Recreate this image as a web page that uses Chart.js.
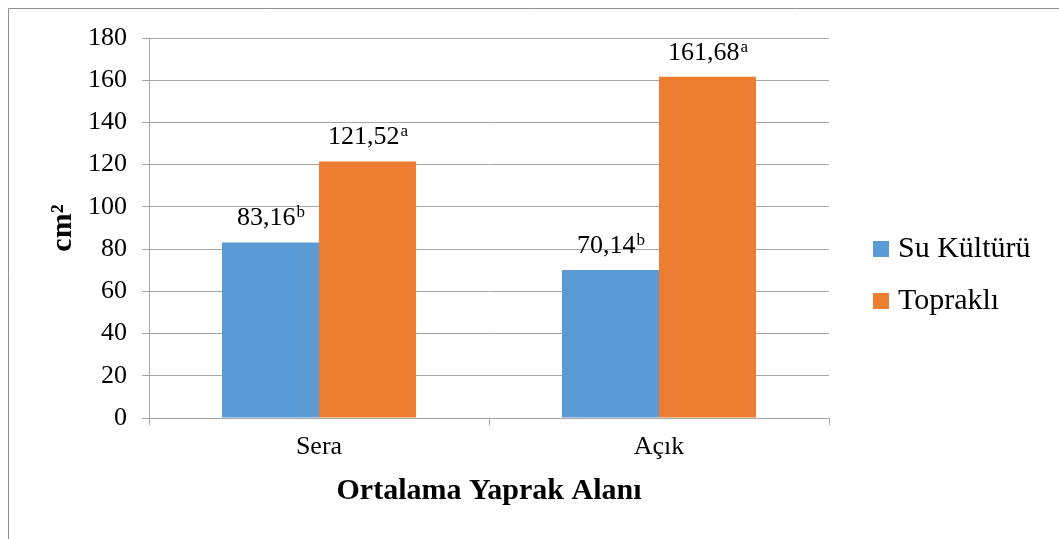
<!DOCTYPE html>
<html>
<head>
<meta charset="utf-8">
<script src="https://cdn.jsdelivr.net/npm/chart.js@4.4.1/dist/chart.umd.min.js"></script>
<style>
html, body { margin: 0; padding: 0; background: #ffffff; }
canvas { display: block; }
</style>
</head>
<body>
<canvas id="chart" width="1059" height="539"></canvas>
<script>
// ---- data ----
const categories = ['Sera', 'Açık'];
const seriesNames = ['Su Kültürü', 'Topraklı'];
const suKulturu = [83.16, 70.14];
const toprakli = [121.52, 161.68];
const suKulturuLetters = ['b', 'b'];
const topraklıLetters = ['a', 'a'];
const seriesColors = ['#5B9BD5', '#ED7D31'];
const yMin = 0;
const yMax = 180;
const yStep = 20;
const xTitle = 'Ortalama Yaprak Alanı';
const yTitle = 'cm²';

const FONT = '"Liberation Serif", "Times New Roman", serif';
const GRID = '#a6a6a6';

Chart.defaults.font.family = FONT;
Chart.defaults.color = '#000000';

const framePlugin = {
  id: 'frame',
  beforeDraw(chart) {
    const ctx = chart.ctx;
    ctx.save();
    ctx.fillStyle = '#ffffff';
    ctx.fillRect(0, 0, chart.width, chart.height);
    ctx.strokeStyle = '#8c8c8c';
    ctx.lineWidth = 1;
    ctx.beginPath();
    ctx.moveTo(8.5, chart.height);
    ctx.lineTo(8.5, 8.5);
    ctx.lineTo(chart.width, 8.5);
    ctx.stroke();
    ctx.restore();
  }
};

const valueLabelPlugin = {
  id: 'valueLabels',
  afterDatasetsDraw(chart) {
    const ctx = chart.ctx;
    chart.data.datasets.forEach((ds, di) => {
      const meta = chart.getDatasetMeta(di);
      meta.data.forEach((bar, i) => {
        const main = ds.data[i].toFixed(2).replace('.', ',');
        const sup = ds.letters[i];
        ctx.save();
        ctx.fillStyle = '#000000';
        ctx.textAlign = 'left';
        ctx.textBaseline = 'alphabetic';
        ctx.font = '26px ' + FONT;
        const w1 = ctx.measureText(main).width;
        ctx.font = '17px ' + FONT;
        const w2 = ctx.measureText(sup).width;
        const x0 = bar.x - (w1 + w2) / 2;
        const yb = bar.y - 17;
        ctx.font = '26px ' + FONT;
        ctx.fillText(main, x0, yb);
        ctx.font = '17px ' + FONT;
        ctx.fillText(sup, x0 + w1 + 1, yb - 8);
        ctx.restore();
      });
    });
  }
};

const legendPlugin = {
  id: 'sideLegend',
  afterDraw(chart) {
    const ctx = chart.ctx;
    const x = chart.chartArea.right + 44;
    const firstBaseline = 257;
    const spacing = 52;
    ctx.save();
    chart.data.datasets.forEach((ds, i) => {
      const base = firstBaseline + i * spacing;
      ctx.fillStyle = ds.backgroundColor;
      ctx.fillRect(x, base - 16, 16, 16);
      ctx.fillStyle = '#000000';
      ctx.font = '30px ' + FONT;
      ctx.textAlign = 'left';
      ctx.textBaseline = 'alphabetic';
      ctx.fillText(ds.label, x + 25, base);
    });
    ctx.restore();
  }
};

new Chart(document.getElementById('chart'), {
  type: 'bar',
  data: {
    labels: categories,
    datasets: [
      { label: seriesNames[0], data: suKulturu, letters: suKulturuLetters, backgroundColor: seriesColors[0], borderWidth: 0 },
      { label: seriesNames[1], data: toprakli, letters: topraklıLetters, backgroundColor: seriesColors[1], borderWidth: 0 }
    ]
  },
  options: {
    responsive: false,
    animation: false,
    devicePixelRatio: 1,
    layout: { padding: { top: 38, right: 230, bottom: 30, left: 0 } },
    datasets: { bar: { categoryPercentage: 0.5706, barPercentage: 1.0 } },
    plugins: {
      legend: { display: false },
      tooltip: { enabled: false },
      title: { display: false }
    },
    scales: {
      x: {
        grid: { offset: true, drawOnChartArea: false, drawTicks: true, tickLength: 7, color: GRID },
        border: { color: GRID },
        ticks: { font: { size: 26 }, color: '#000000', padding: 7 },
        title: { display: true, text: xTitle, font: { size: 30, weight: 'bold' }, color: '#000000', padding: { top: 0, bottom: 0 } },
        afterFit(scale) { scale.height = 91; }
      },
      y: {
        min: yMin,
        max: yMax,
        ticks: { stepSize: yStep, font: { size: 26 }, color: '#000000', padding: 15 },
        grid: { color: GRID, tickLength: 7, drawTicks: true },
        border: { color: GRID },
        title: { display: true, text: yTitle, font: { size: 30, weight: 'bold' }, color: '#000000', padding: { top: 45, bottom: 0 } },
        afterFit(scale) { scale.width = 149; }
      }
    }
  },
  plugins: [framePlugin, valueLabelPlugin, legendPlugin]
});
</script>
</body>
</html>
